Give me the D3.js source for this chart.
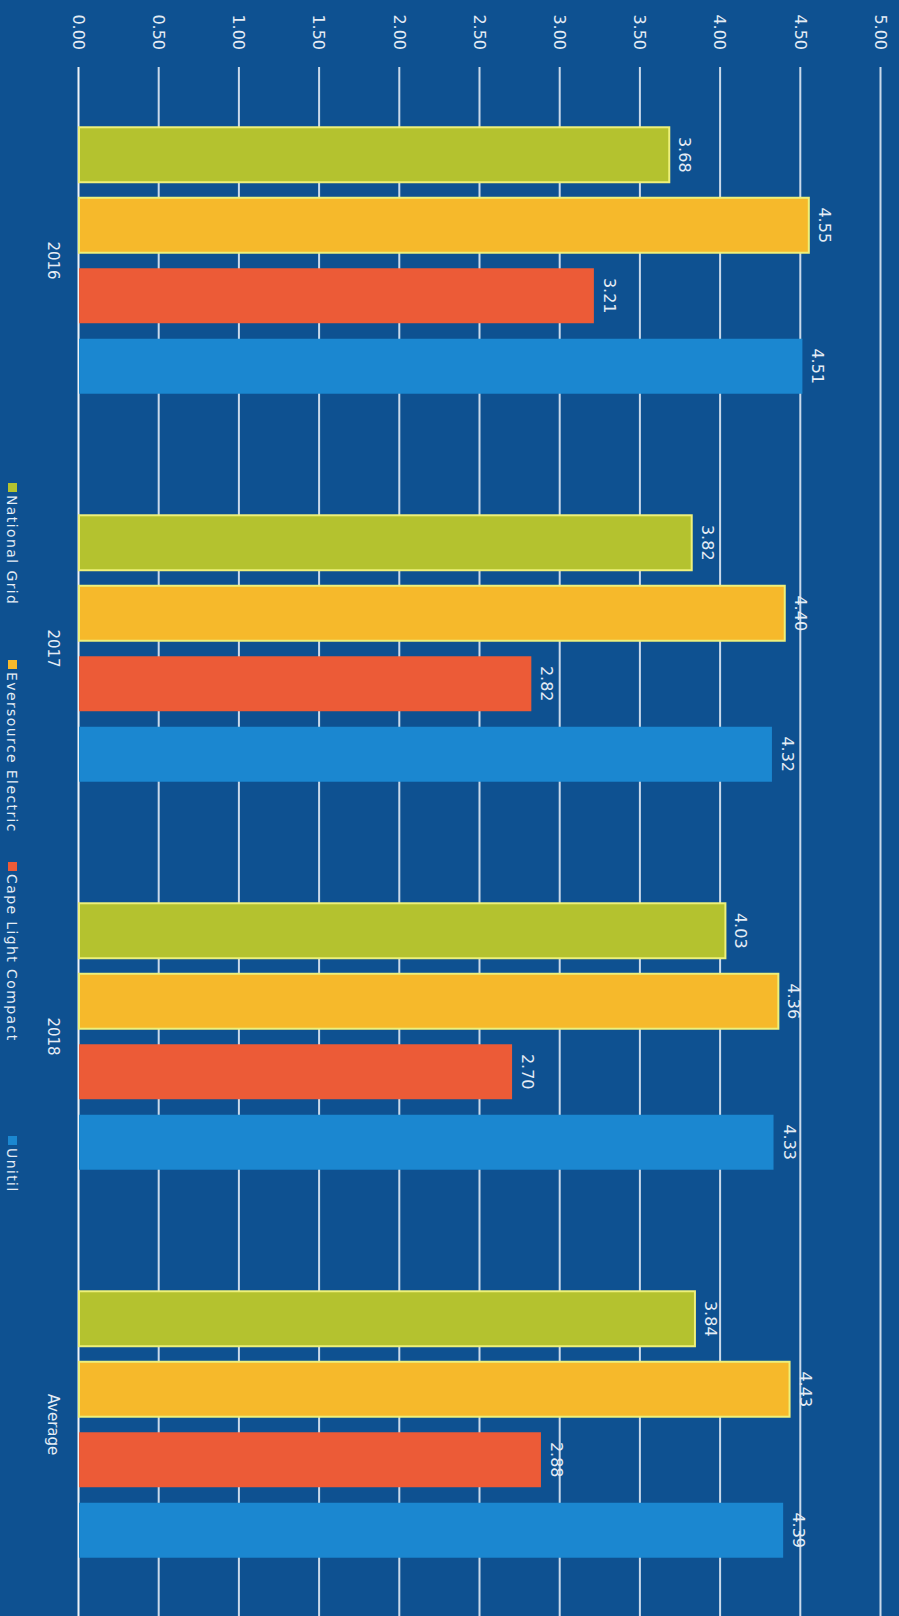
<!DOCTYPE html>
<html>
<head>
<meta charset="utf-8">
<script src="https://cdn.jsdelivr.net/npm/d3@7"></script>
<style>
  html, body { margin: 0; padding: 0; background: #0e5191; }
  svg { display: block; }
</style>
</head>
<body>
<svg id="canvas" width="899" height="1616"></svg>
<script>
// values
const categories = ['2016', '2017', '2018', 'Average'];
const series = ['National Grid', 'Eversource Electric', 'Cape Light Compact', 'Unitil'];
const nationalGrid = [3.68, 3.82, 4.03, 3.84];
const eversource = [4.55, 4.40, 4.36, 4.43];
const capeLight = [3.21, 2.82, 2.70, 2.88];
const unitil = [4.51, 4.32, 4.33, 4.39];
const yTicks = [0, 0.5, 1, 1.5, 2, 2.5, 3, 3.5, 4, 4.5, 5];

const colors = ['#b4c22f', '#f6b92b', '#ec5b37', '#1b87d0'];
const values = [nationalGrid, eversource, capeLight, unitil];
const legendOffsets = [0, 177, 379, 653];   // where each legend item starts

// the chart is drawn upright (1616 wide, 899 tall) then turned 90deg clockwise
const W = 1616, H = 899;
const svg = d3.select('#canvas');
svg.append('rect').attr('width', 899).attr('height', 1616).attr('fill', '#0e5191');

const g = svg.append('g').attr('transform', `translate(${899},0) rotate(90)`);

const x0 = d3.scaleBand().domain(categories).range([66.5, 1618.5]);
const x1 = d3.scaleBand().domain(series).range([0, x0.bandwidth()])
    .paddingInner(0.22).paddingOuter(0.862);
const y = d3.scaleLinear().domain([0, 5]).range([H - 79, H - 881]);

// gridlines + tick labels
const axis = g.append('g')
    .attr('transform', 'translate(67,0)')
    .call(d3.axisLeft(y).tickValues(yTicks).tickFormat(d3.format('.2f'))
        .tickSize(-(W - 67)).tickPadding(17));
axis.select('.domain').remove();
axis.selectAll('.tick line')
    .attr('stroke', '#c9d9ea')
    .attr('stroke-width', 2);
axis.selectAll('.tick text')
    .attr('fill', '#e4ecf5')
    .attr('font-family', '"DejaVu Sans", sans-serif')
    .attr('font-size', 16)
    .attr('dy', '0.35em');
axis.selectAll('.tick').filter(d => d === 0).select('line')
    .attr('stroke', '#eef3f8');

// bars
const rows = categories.map((c, i) => ({
    cat: c,
    bars: series.map((s, j) => ({ s, j, v: values[j][i] }))
}));

const groups = g.selectAll('g.cat')
    .data(rows)
    .join('g')
    .attr('class', 'cat')
    .attr('transform', d => `translate(${x0(d.cat)},0)`);

groups.selectAll('rect')
    .data(d => d.bars)
    .join('rect')
    .attr('x', d => x1(d.s))
    .attr('width', x1.bandwidth())
    .attr('y', d => y(d.v))
    .attr('height', d => y(0) - y(d.v))
    .attr('fill', d => colors[d.j])
    .attr('stroke', d => d.j < 2 ? '#eef07a' : 'none')
    .attr('stroke-width', 2);

groups.selectAll('text.val')
    .data(d => d.bars)
    .join('text')
    .attr('class', 'val')
    .attr('x', d => x1(d.s) + x1.bandwidth() / 2)
    .attr('y', d => y(d.v) - 10)
    .attr('text-anchor', 'middle')
    .attr('fill', '#e4ecf5')
    .attr('font-family', '"DejaVu Sans", sans-serif')
    .attr('font-size', 16)
    .text(d => d3.format('.2f')(d.v));

// category labels
g.selectAll('text.cat')
    .data(categories)
    .join('text')
    .attr('class', 'cat')
    .attr('x', d => x0(d) + x0.bandwidth() / 2)
    .attr('y', H - 53)
    .attr('dy', '0.35em')
    .attr('text-anchor', 'middle')
    .attr('fill', '#e4ecf5')
    .attr('font-family', '"DejaVu Sans", sans-serif')
    .attr('font-size', 15)
    .text(d => d);

// legend
const legend = g.append('g').attr('transform', `translate(483,${H - 12})`);
const items = legend.selectAll('g')
    .data(series)
    .join('g')
    .attr('transform', (d, j) => `translate(${legendOffsets[j]},0)`);
items.append('rect')
    .attr('x', 0).attr('y', -5)
    .attr('width', 9).attr('height', 9)
    .attr('fill', (d, j) => colors[j]);
items.append('text')
    .attr('x', 12)
    .attr('dy', '0.35em')
    .attr('fill', '#e4ecf5')
    .attr('font-family', '"DejaVu Sans", sans-serif')
    .attr('font-size', 14)
    .attr('letter-spacing', 1.4)
    .text(d => d);
</script>
</body>
</html>
